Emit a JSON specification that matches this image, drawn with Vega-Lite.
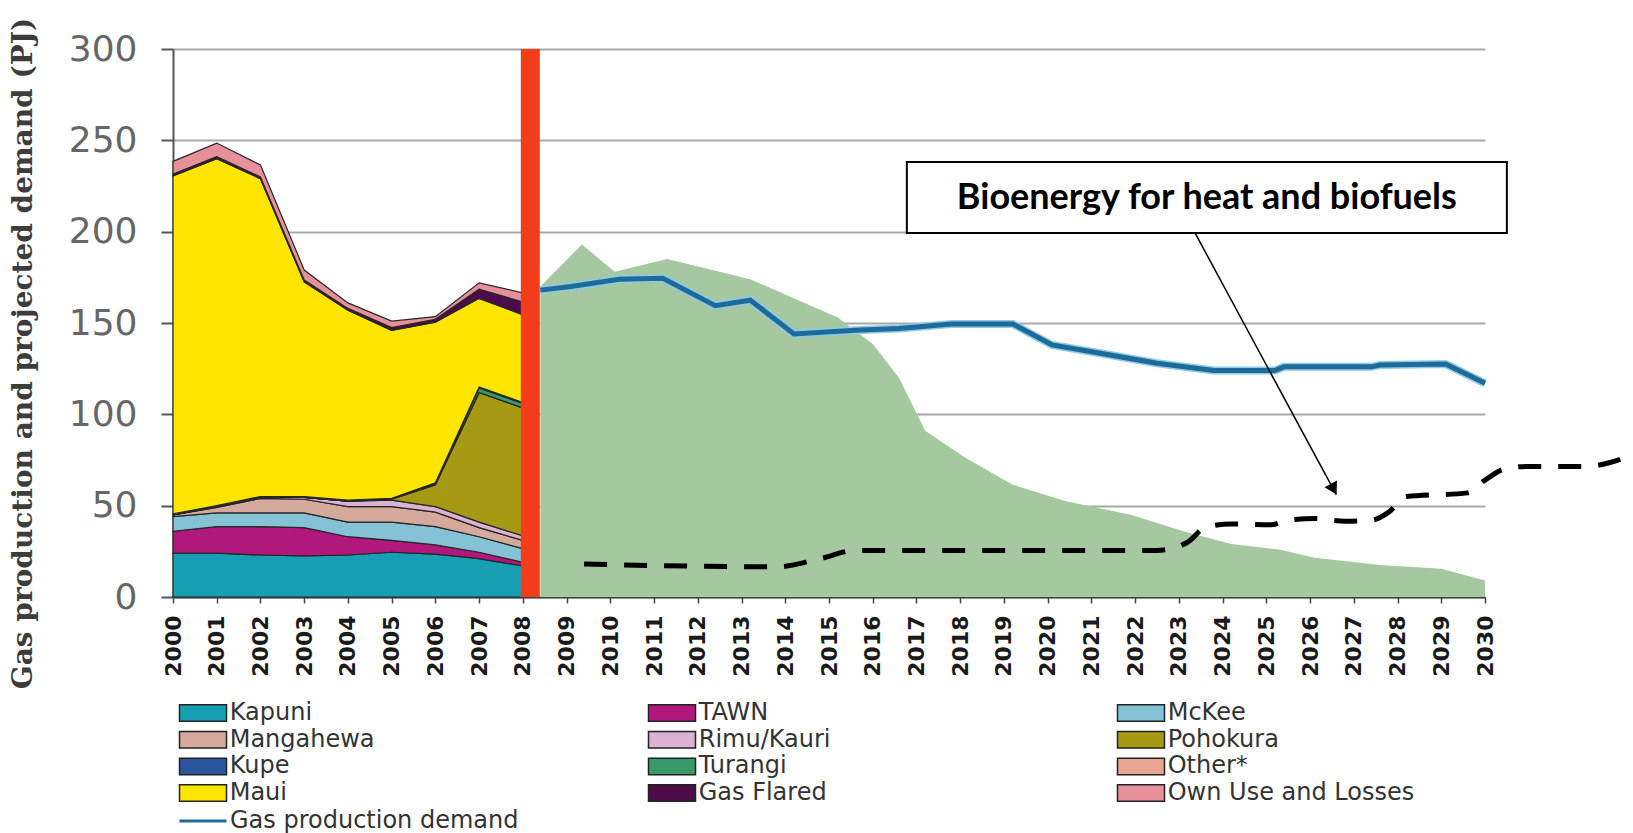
{
  "$schema": "https://vega.github.io/schema/vega-lite/v6.json",
  "width": 1312,
  "height": 548,
  "autosize": {"type": "none"},
  "padding": {"left": 173, "top": 49, "right": 148, "bottom": 236},
  "background": "white",
  "config": {"view": {"stroke": null}},
  "datasets": {
    "supply": [
      {"year":2000,"source":"Kapuni","k":1,"PJ":24},{"year":2000,"source":"TAWN","k":2,"PJ":12},{"year":2000,"source":"McKee","k":3,"PJ":8},{"year":2000,"source":"Mangahewa","k":4,"PJ":1},{"year":2000,"source":"Rimu/Kauri","k":5,"PJ":0},{"year":2000,"source":"Pohokura","k":6,"PJ":0},{"year":2000,"source":"Kupe","k":7,"PJ":0},{"year":2000,"source":"Turangi","k":8,"PJ":0},{"year":2000,"source":"Other*","k":9,"PJ":0.5},{"year":2000,"source":"Maui","k":10,"PJ":185},{"year":2000,"source":"Gas Flared","k":11,"PJ":1},{"year":2000,"source":"Own Use and Losses","k":12,"PJ":7},
      {"year":2001,"source":"Kapuni","k":1,"PJ":24},{"year":2001,"source":"TAWN","k":2,"PJ":14.5},{"year":2001,"source":"McKee","k":3,"PJ":7.5},{"year":2001,"source":"Mangahewa","k":4,"PJ":3},{"year":2001,"source":"Rimu/Kauri","k":5,"PJ":0.5},{"year":2001,"source":"Pohokura","k":6,"PJ":0},{"year":2001,"source":"Kupe","k":7,"PJ":0},{"year":2001,"source":"Turangi","k":8,"PJ":0},{"year":2001,"source":"Other*","k":9,"PJ":0.5},{"year":2001,"source":"Maui","k":10,"PJ":190},{"year":2001,"source":"Gas Flared","k":11,"PJ":1},{"year":2001,"source":"Own Use and Losses","k":12,"PJ":7.5},
      {"year":2002,"source":"Kapuni","k":1,"PJ":23},{"year":2002,"source":"TAWN","k":2,"PJ":15.5},{"year":2002,"source":"McKee","k":3,"PJ":7.5},{"year":2002,"source":"Mangahewa","k":4,"PJ":8},{"year":2002,"source":"Rimu/Kauri","k":5,"PJ":0.5},{"year":2002,"source":"Pohokura","k":6,"PJ":0},{"year":2002,"source":"Kupe","k":7,"PJ":0},{"year":2002,"source":"Turangi","k":8,"PJ":0},{"year":2002,"source":"Other*","k":9,"PJ":0.5},{"year":2002,"source":"Maui","k":10,"PJ":174},{"year":2002,"source":"Gas Flared","k":11,"PJ":1},{"year":2002,"source":"Own Use and Losses","k":12,"PJ":6.5},
      {"year":2003,"source":"Kapuni","k":1,"PJ":22.5},{"year":2003,"source":"TAWN","k":2,"PJ":15.5},{"year":2003,"source":"McKee","k":3,"PJ":8},{"year":2003,"source":"Mangahewa","k":4,"PJ":7.5},{"year":2003,"source":"Rimu/Kauri","k":5,"PJ":1},{"year":2003,"source":"Pohokura","k":6,"PJ":0},{"year":2003,"source":"Kupe","k":7,"PJ":0},{"year":2003,"source":"Turangi","k":8,"PJ":0},{"year":2003,"source":"Other*","k":9,"PJ":0.5},{"year":2003,"source":"Maui","k":10,"PJ":117.5},{"year":2003,"source":"Gas Flared","k":11,"PJ":1},{"year":2003,"source":"Own Use and Losses","k":12,"PJ":5.5},
      {"year":2004,"source":"Kapuni","k":1,"PJ":23},{"year":2004,"source":"TAWN","k":2,"PJ":10},{"year":2004,"source":"McKee","k":3,"PJ":8},{"year":2004,"source":"Mangahewa","k":4,"PJ":8.5},{"year":2004,"source":"Rimu/Kauri","k":5,"PJ":3},{"year":2004,"source":"Pohokura","k":6,"PJ":0},{"year":2004,"source":"Kupe","k":7,"PJ":0},{"year":2004,"source":"Turangi","k":8,"PJ":0},{"year":2004,"source":"Other*","k":9,"PJ":0.5},{"year":2004,"source":"Maui","k":10,"PJ":104},{"year":2004,"source":"Gas Flared","k":11,"PJ":1},{"year":2004,"source":"Own Use and Losses","k":12,"PJ":3},
      {"year":2005,"source":"Kapuni","k":1,"PJ":24.5},{"year":2005,"source":"TAWN","k":2,"PJ":6.5},{"year":2005,"source":"McKee","k":3,"PJ":10},{"year":2005,"source":"Mangahewa","k":4,"PJ":8.5},{"year":2005,"source":"Rimu/Kauri","k":5,"PJ":3.5},{"year":2005,"source":"Pohokura","k":6,"PJ":0.5},{"year":2005,"source":"Kupe","k":7,"PJ":0},{"year":2005,"source":"Turangi","k":8,"PJ":0},{"year":2005,"source":"Other*","k":9,"PJ":0.5},{"year":2005,"source":"Maui","k":10,"PJ":92},{"year":2005,"source":"Gas Flared","k":11,"PJ":1.5},{"year":2005,"source":"Own Use and Losses","k":12,"PJ":3.5},
      {"year":2006,"source":"Kapuni","k":1,"PJ":23.5},{"year":2006,"source":"TAWN","k":2,"PJ":5},{"year":2006,"source":"McKee","k":3,"PJ":10},{"year":2006,"source":"Mangahewa","k":4,"PJ":8},{"year":2006,"source":"Rimu/Kauri","k":5,"PJ":3},{"year":2006,"source":"Pohokura","k":6,"PJ":12},{"year":2006,"source":"Kupe","k":7,"PJ":0},{"year":2006,"source":"Turangi","k":8,"PJ":0.5},{"year":2006,"source":"Other*","k":9,"PJ":0.5},{"year":2006,"source":"Maui","k":10,"PJ":88},{"year":2006,"source":"Gas Flared","k":11,"PJ":1.5},{"year":2006,"source":"Own Use and Losses","k":12,"PJ":1.5},
      {"year":2007,"source":"Kapuni","k":1,"PJ":21},{"year":2007,"source":"TAWN","k":2,"PJ":3.5},{"year":2007,"source":"McKee","k":3,"PJ":8.5},{"year":2007,"source":"Mangahewa","k":4,"PJ":5},{"year":2007,"source":"Rimu/Kauri","k":5,"PJ":3},{"year":2007,"source":"Pohokura","k":6,"PJ":71},{"year":2007,"source":"Kupe","k":7,"PJ":0},{"year":2007,"source":"Turangi","k":8,"PJ":2.5},{"year":2007,"source":"Other*","k":9,"PJ":0.5},{"year":2007,"source":"Maui","k":10,"PJ":48.5},{"year":2007,"source":"Gas Flared","k":11,"PJ":5},{"year":2007,"source":"Own Use and Losses","k":12,"PJ":3.5},
      {"year":2008,"source":"Kapuni","k":1,"PJ":17},{"year":2008,"source":"TAWN","k":2,"PJ":2},{"year":2008,"source":"McKee","k":3,"PJ":7.5},{"year":2008,"source":"Mangahewa","k":4,"PJ":4.5},{"year":2008,"source":"Rimu/Kauri","k":5,"PJ":2.5},{"year":2008,"source":"Pohokura","k":6,"PJ":70},{"year":2008,"source":"Kupe","k":7,"PJ":0},{"year":2008,"source":"Turangi","k":8,"PJ":2.5},{"year":2008,"source":"Other*","k":9,"PJ":0.5},{"year":2008,"source":"Maui","k":10,"PJ":48},{"year":2008,"source":"Gas Flared","k":11,"PJ":7},{"year":2008,"source":"Own Use and Losses","k":12,"PJ":5}
    ],
    "projected": [
      {"year":2008.4,"PJ":170},{"year":2009.35,"PJ":193},{"year":2010.1,"PJ":178},{"year":2011.3,"PJ":185},{"year":2013.2,"PJ":174},{"year":2015.2,"PJ":153},{"year":2016.0,"PJ":138.5},{"year":2016.6,"PJ":120},{"year":2017.2,"PJ":91},{"year":2018.1,"PJ":76.5},{"year":2019.2,"PJ":61.5},{"year":2020.4,"PJ":52.5},{"year":2021.9,"PJ":45},{"year":2023.1,"PJ":36},{"year":2024.2,"PJ":29},{"year":2025.3,"PJ":26},{"year":2026.1,"PJ":21.5},{"year":2027.6,"PJ":17.5},{"year":2029.0,"PJ":15.5},{"year":2030,"PJ":9}
    ],
    "demand": [
      {"year":2008.4,"PJ":168,"series":"Gas production demand"},{"year":2009.1,"PJ":170,"series":"Gas production demand"},{"year":2010.2,"PJ":174,"series":"Gas production demand"},{"year":2011.2,"PJ":174.5,"series":"Gas production demand"},{"year":2012.4,"PJ":159.5,"series":"Gas production demand"},{"year":2013.2,"PJ":162.5,"series":"Gas production demand"},{"year":2014.2,"PJ":144,"series":"Gas production demand"},{"year":2015.6,"PJ":146,"series":"Gas production demand"},{"year":2016.6,"PJ":147,"series":"Gas production demand"},{"year":2017.8,"PJ":149.5,"series":"Gas production demand"},{"year":2019.2,"PJ":149.5,"series":"Gas production demand"},{"year":2020.1,"PJ":138,"series":"Gas production demand"},{"year":2021.3,"PJ":133,"series":"Gas production demand"},{"year":2022.5,"PJ":128,"series":"Gas production demand"},{"year":2023.8,"PJ":124,"series":"Gas production demand"},{"year":2025.2,"PJ":124,"series":"Gas production demand"},{"year":2025.4,"PJ":126,"series":"Gas production demand"},{"year":2027.4,"PJ":126,"series":"Gas production demand"},{"year":2027.6,"PJ":127,"series":"Gas production demand"},{"year":2029.1,"PJ":127.5,"series":"Gas production demand"},{"year":2030,"PJ":117,"series":"Gas production demand"}
    ],
    "bio": [
      {"year":2009.4,"PJ":18},{"year":2013.8,"PJ":16.5},{"year":2014.8,"PJ":21},{"year":2015.6,"PJ":25.5},{"year":2022.5,"PJ":25.5},{"year":2023.2,"PJ":30},{"year":2023.6,"PJ":38},{"year":2024.2,"PJ":40},{"year":2025.1,"PJ":39.5},{"year":2025.5,"PJ":42},{"year":2026.1,"PJ":43},{"year":2026.8,"PJ":41.5},{"year":2027.4,"PJ":42},{"year":2027.8,"PJ":46.5},{"year":2028.2,"PJ":55},{"year":2029.6,"PJ":57},{"year":2030.0,"PJ":64},{"year":2030.5,"PJ":70.5},{"year":2031.0,"PJ":71.5},{"year":2032.3,"PJ":71.5},{"year":2033.3,"PJ":77}
    ],
    "marker": [{"year":2008.17}]
  },
  "layer": [
    {
      "data": {"name": "supply"},
      "mark": {"type": "area", "stroke": "#262626", "strokeWidth": 1.2, "opacity": 1},
      "encoding": {
        "x": {"field": "year", "type": "quantitative",
          "scale": {"domain": [2000, 2030], "nice": false, "zero": false},
          "axis": {"title": null, "values": [2000,2001,2002,2003,2004,2005,2006,2007,2008,2009,2010,2011,2012,2013,2014,2015,2016,2017,2018,2019,2020,2021,2022,2023,2024,2025,2026,2027,2028,2029,2030],
            "format": "d", "labelAngle": 270, "labelFont": "DejaVu Sans", "labelFontWeight": "bold", "labelFontSize": 22, "labelColor": "#1a1a1a",
            "labelOverlap": false, "labelFlush": false, "labelPadding": 12, "tickSize": 6, "tickColor": "#444", "tickWidth": 1.5,
            "domainColor": "#444", "domainWidth": 2, "grid": false}},
        "y": {"field": "PJ", "type": "quantitative", "stack": "zero",
          "scale": {"domain": [0, 300], "nice": false},
          "axis": {"title": "Gas production and projected demand (PJ)", "values": [0,50,100,150,200,250,300],
            "titleFont": "DejaVu Serif", "titleFontWeight": "bold", "titleFontSize": 28, "titleColor": "#3c3c3c",
            "titleAngle": 270, "titleX": -150, "titleY": 304, "titleAlign": "center", "titleBaseline": "middle",
            "labelFont": "DejaVu Sans", "labelFontSize": 36, "labelColor": "#666", "labelPadding": 24,
            "tickSize": 12, "tickColor": "#555", "tickWidth": 2, "domainColor": "#555", "domainWidth": 2,
            "grid": true, "gridColor": "#a8a8a8", "gridWidth": 2}},
        "fill": {"field": "source", "type": "nominal",
          "scale": {"domain": ["Kapuni","TAWN","McKee","Mangahewa","Rimu/Kauri","Pohokura","Kupe","Turangi","Other*","Maui","Gas Flared","Own Use and Losses"],
            "range": ["#17a0b4","#b0187e","#86c2d6","#d5aa9c","#dcb2d2","#a69a14","#2c55a0","#389a68","#eaa592","#ffe500","#4c0c4a","#e6909a"]},
          "legend": {"orient": "none", "legendX": 18, "legendY": 652, "title": null, "direction": "horizontal", "columns": 3, "gridAlign": "all",
            "columnPadding": 168, "rowPadding": 2.7, "symbolType": "M-2.85,-1H2.85V1H-2.85Z", "symbolSize": 272,
            "symbolStrokeColor": "#222", "symbolStrokeWidth": 1.5, "symbolOpacity": 1,
            "labelFont": "DejaVu Sans", "labelFontSize": 24, "labelColor": "#333", "labelOffset": 14.7, "labelLimit": 400}},
        "order": {"field": "k", "type": "quantitative", "sort": "ascending"}
      }
    },
    {
      "data": {"name": "projected"},
      "mark": {"type": "area", "color": "#a5c8a0", "opacity": 1},
      "encoding": {
        "x": {"field": "year", "type": "quantitative"},
        "y": {"field": "PJ", "type": "quantitative", "stack": null}
      }
    },
    {
      "data": {"name": "marker"},
      "mark": {"type": "rule", "color": "#f23c1a", "strokeWidth": 19},
      "encoding": {
        "x": {"field": "year", "type": "quantitative"},
        "y": {"datum": 0},
        "y2": {"datum": 300}
      }
    },
    {
      "data": {"name": "demand"},
      "mark": {"type": "line", "color": "#8ccbea", "strokeWidth": 8},
      "encoding": {
        "x": {"field": "year", "type": "quantitative"},
        "y": {"field": "PJ", "type": "quantitative"}
      }
    },
    {
      "data": {"name": "demand"},
      "mark": {"type": "line", "strokeWidth": 5},
      "encoding": {
        "x": {"field": "year", "type": "quantitative"},
        "y": {"field": "PJ", "type": "quantitative"},
        "stroke": {"field": "series", "type": "nominal",
          "scale": {"domain": ["Gas production demand"], "range": ["#1e6a98"]},
          "legend": {"orient": "none", "legendX": 5, "legendY": 747, "title": null, "symbolType": "stroke", "symbolSize": 2209,
            "symbolStrokeWidth": 3, "labelFont": "DejaVu Sans", "labelFontSize": 24, "labelColor": "#333", "labelOffset": 2, "labelLimit": 400}}
      }
    },
    {
      "data": {"name": "bio"},
      "mark": {"type": "line", "color": "black", "strokeWidth": 5, "strokeDash": [23, 17], "interpolate": "monotone", "strokeCap": "butt"},
      "encoding": {
        "x": {"field": "year", "type": "quantitative"},
        "y": {"field": "PJ", "type": "quantitative"}
      }
    },
    {
      "data": {"values": [{}]},
      "mark": {"type": "rect", "fill": "white", "stroke": "black", "strokeWidth": 2},
      "encoding": {
        "x": {"datum": 2016.78}, "x2": {"datum": 2030.5},
        "y": {"datum": 238.1}, "y2": {"datum": 199.3}
      }
    },
    {
      "data": {"values": [{}]},
      "mark": {"type": "text", "text": "Bioenergy for heat and biofuels", "font": "Lato", "fontWeight": "bold", "fontSize": 36, "align": "center", "baseline": "middle", "color": "black"},
      "encoding": {
        "x": {"datum": 2023.64}, "y": {"datum": 218.7}
      }
    },
    {
      "data": {"values": [{}]},
      "mark": {"type": "rule", "color": "black", "strokeWidth": 1.5},
      "encoding": {
        "x": {"datum": 2023.37}, "x2": {"datum": 2026.6},
        "y": {"datum": 199.3}, "y2": {"datum": 56}
      }
    },
    {
      "data": {"values": [{}]},
      "mark": {"type": "point", "shape": "triangle-down", "filled": true, "color": "black", "size": 200, "angle": 331.5, "opacity": 1},
      "encoding": {
        "x": {"datum": 2026.54}, "y": {"datum": 59}
      }
    }
  ]
}
